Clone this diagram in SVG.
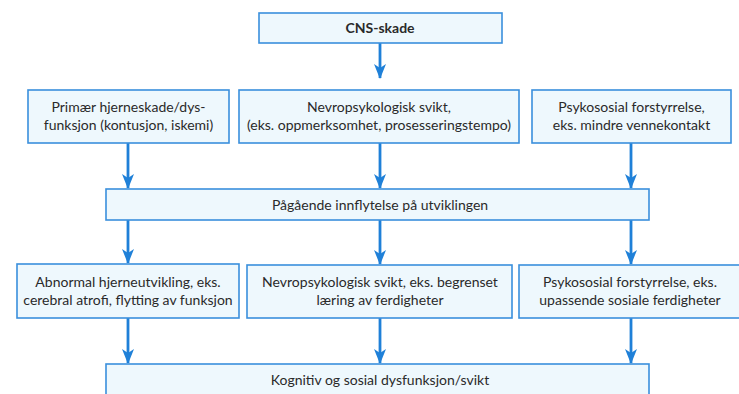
<svg xmlns="http://www.w3.org/2000/svg" width="739" height="394" viewBox="0 0 739 394">
<defs>
<style>
.box{fill:#eef8fd;stroke:#3a8fdc;stroke-width:1.6}
.t{font-family:Lato,"Open Sans","Liberation Sans",sans-serif;font-size:14px;fill:#2a2a2a;text-anchor:middle}
.b{font-weight:bold}
.c{stroke:#1f80d8;stroke-width:2.8;fill:none;marker-end:url(#ah)}
</style>
<marker id="ah" viewBox="0 0 15 12" refX="14" refY="6" markerWidth="15" markerHeight="12" markerUnits="userSpaceOnUse" orient="auto">
<path d="M0,0 L15,6 L0,12 L4,6 Z" fill="#1f80d8"/>
</marker>
</defs>
<rect width="739" height="394" fill="#ffffff"/>
<g id="connectors">
<line class="c" x1="380" y1="43" x2="380" y2="78"/>
<line class="c" x1="128" y1="143" x2="128" y2="188"/>
<line class="c" x1="380" y1="143" x2="380" y2="188"/>
<line class="c" x1="631" y1="143" x2="631" y2="188"/>
<line class="c" x1="128" y1="220" x2="128" y2="263"/>
<line class="c" x1="380" y1="220" x2="380" y2="264"/>
<line class="c" x1="631" y1="220" x2="631" y2="264"/>
<line class="c" x1="128" y1="318" x2="128" y2="363"/>
<line class="c" x1="380" y1="318" x2="380" y2="363"/>
<line class="c" x1="631" y1="318" x2="631" y2="363"/>
</g>
<g id="n-cns">
<rect class="box" x="259" y="13" width="243" height="30"/>
<text class="t b" x="380" y="33">CNS-skade</text>
</g>
<g id="n-primaer">
<rect class="box" x="28" y="90" width="201" height="53"/>
<text class="t" x="128.5" y="112">Primær hjerneskade/dys-</text>
<text class="t" x="128.5" y="130">funksjon (kontusjon, iskemi)</text>
</g>
<g id="n-nevro1">
<rect class="box" x="239" y="90" width="280" height="53"/>
<text class="t" x="379" y="112">Nevropsykologisk svikt,</text>
<text class="t" x="379" y="130">(eks. oppmerksomhet, prosesseringstempo)</text>
</g>
<g id="n-psyko1">
<rect class="box" x="532" y="90" width="199" height="53"/>
<text class="t" x="631.5" y="112">Psykososial forstyrrelse,</text>
<text class="t" x="631.5" y="130">eks. mindre vennekontakt</text>
</g>
<g id="n-paagaaende">
<rect class="box" x="106" y="189" width="543" height="31"/>
<text class="t" x="380" y="210">Pågående innflytelse på utviklingen</text>
</g>
<g id="n-abnormal">
<rect class="box" x="17" y="264" width="222" height="54"/>
<text class="t" x="128" y="287">Abnormal hjerneutvikling, eks.</text>
<text class="t" x="128" y="305">cerebral atrofi, flytting av funksjon</text>
</g>
<g id="n-nevro2">
<rect class="box" x="247" y="265" width="265" height="53"/>
<text class="t" x="380" y="287">Nevropsykologisk svikt, eks. begrenset</text>
<text class="t" x="380" y="305">læring av ferdigheter</text>
</g>
<g id="n-psyko2">
<rect class="box" x="519" y="265" width="226" height="53"/>
<text class="t" x="630" y="287">Psykososial forstyrrelse, eks.</text>
<text class="t" x="630" y="305">upassende sosiale ferdigheter</text>
</g>
<g id="n-kognitiv">
<rect class="box" x="106" y="364" width="543" height="40"/>
<text class="t" x="380" y="385">Kognitiv og sosial dysfunksjon/svikt</text>
</g>
</svg>
